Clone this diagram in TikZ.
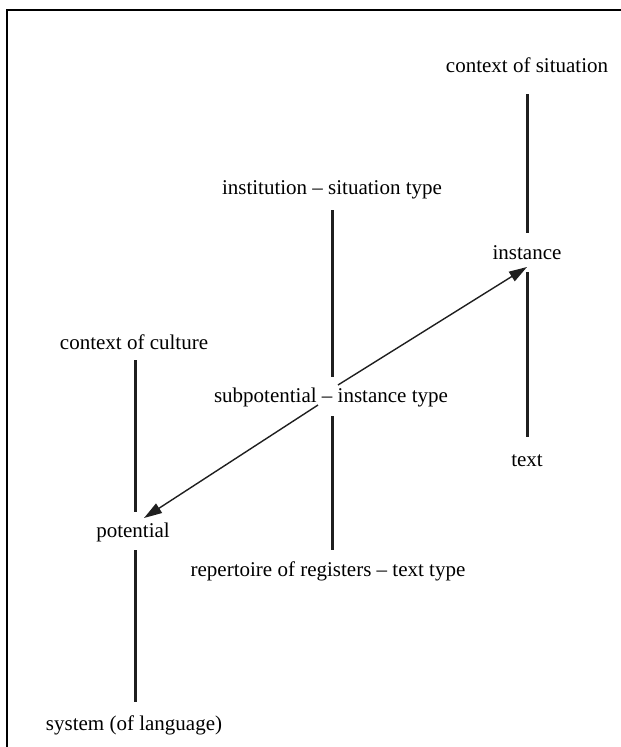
\documentclass[tikz,border=0pt]{standalone}
\usepackage{fontspec}
\setmainfont{Liberation Serif}
\usetikzlibrary{arrows.meta}
\begin{document}
\begin{tikzpicture}[x=1pt,y=-1pt,
  lbl/.style={inner sep=0pt,font=\fontsize{21}{25}\selectfont,text=black},
  vline/.style={line width=3pt,draw=black!88},
  arr/.style={line width=1.4pt,draw=black!88,-{Triangle[length=18pt,width=11pt]}},
  frame/.style={line width=2pt,draw=black}]
\useasboundingbox (0,0) rectangle (621,747);
\draw[frame] (7,10) rectangle (660,790);
% nodes
\node[lbl] (cs)   at (527,65)  {context of situation};
\node[lbl] (inst) at (527,253) {instance};
\node[lbl] (txt)  at (527,461) {text};
\node[lbl] (ist)  at (332,190) {institution -- situation type};
\node[lbl] (sub)  at (331,397) {subpotential -- instance type};
\node[lbl] (rep)  at (328,571) {repertoire of registers -- text type};
\node[lbl] (cc)   at (134,342) {context of culture};
\node[lbl] (pot)  at (133,532) {potential};
\node[lbl] (sys)  at (134,725) {system (of language)};
% vertical connectors
\draw[vline] (527,94) -- (527,233);
\draw[vline] (527,272) -- (527,437);
\draw[vline] (332,210) -- (332,377);
\draw[vline] (332,416) -- (332,550);
\draw[vline] (135,360) -- (135,512);
\draw[vline] (135,550) -- (135,702);
% arrows
\coordinate (s1) at (338,385);
\coordinate (t1) at (527,267);
\coordinate (s2) at (318,405);
\coordinate (t2) at (144,518);
\draw[arr] (s1) -- (t1);
\draw[arr] (s2) -- (t2);
\end{tikzpicture}
\end{document}
